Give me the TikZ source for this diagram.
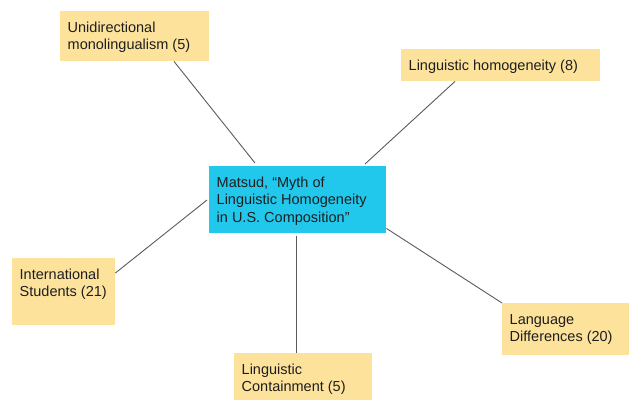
\documentclass[tikz,border=0pt]{standalone}
\usepackage{fontspec}
\setmainfont{Liberation Sans}
\usetikzlibrary{calc}
\definecolor{notefill}{HTML}{FCE29B}
\definecolor{hubfill}{HTML}{22C8EC}
\definecolor{linkgray}{HTML}{5A5A5A}
\definecolor{inktext}{HTML}{1E1E1E}
\tikzset{
  card/.style={anchor=north west, inner xsep=7.5pt, inner ysep=0pt,
    text height=21pt, font=\fontsize{14.5}{17.6}\selectfont,
    text=inktext, draw=none},
  note/.style={card, fill=notefill},
  hub/.style={card, fill=hubfill},
  link/.style={draw=linkgray, line width=0.9pt}
}
% box helper: width, height, text
\newcommand{\cardtext}[2]{\parbox[t]{#1}{\raggedright #2}}
\begin{document}
\begin{tikzpicture}[x=1pt,y=-1pt]
\useasboundingbox (0,0) rectangle (629,400);
% central topic
\node[hub, minimum width=177pt, text depth=46pt] (c) at (209,166)
  {\cardtext{162pt}{Matsud, “Myth of\\Linguistic Homogeneity\\in U.S. Composition”}};
% surrounding notes
\node[note, minimum width=149pt, text depth=29pt] (u) at (60,11)
  {\cardtext{134pt}{Unidirectional\\monolingualism (5)}};
\node[note, minimum width=199pt, text depth=11pt] (h) at (401,49)
  {\cardtext{184pt}{Linguistic homogeneity (8)}};
\node[note, minimum width=103pt, text depth=46pt] (i) at (12,258)
  {\cardtext{88pt}{International\\Students (21)}};
\node[note, minimum width=127pt, text depth=31pt] (d) at (502,303)
  {\cardtext{112pt}{Language\\Differences (20)}};
\node[note, minimum width=138pt, text depth=26pt] (k) at (234,353)
  {\cardtext{123pt}{Linguistic\\Containment (5)}};
% connectors
\draw[link] ($(u.south west)+(114,0)$) -- ($(c.north west)+(46,-3)$);
\draw[link] ($(h.south west)+(54,0)$) -- ($(c.north west)+(156,-2)$);
\draw[link] ($(i.north east)+(0,15)$) -- ($(c.north west)+(-2,34)$);
\draw[link] ($(k.north west)+(62,0)$) -- ($(c.south west)+(87,3)$);
\draw[link] (d.north west) -- ($(c.south east)+(0,-5)$);
\end{tikzpicture}
\end{document}
